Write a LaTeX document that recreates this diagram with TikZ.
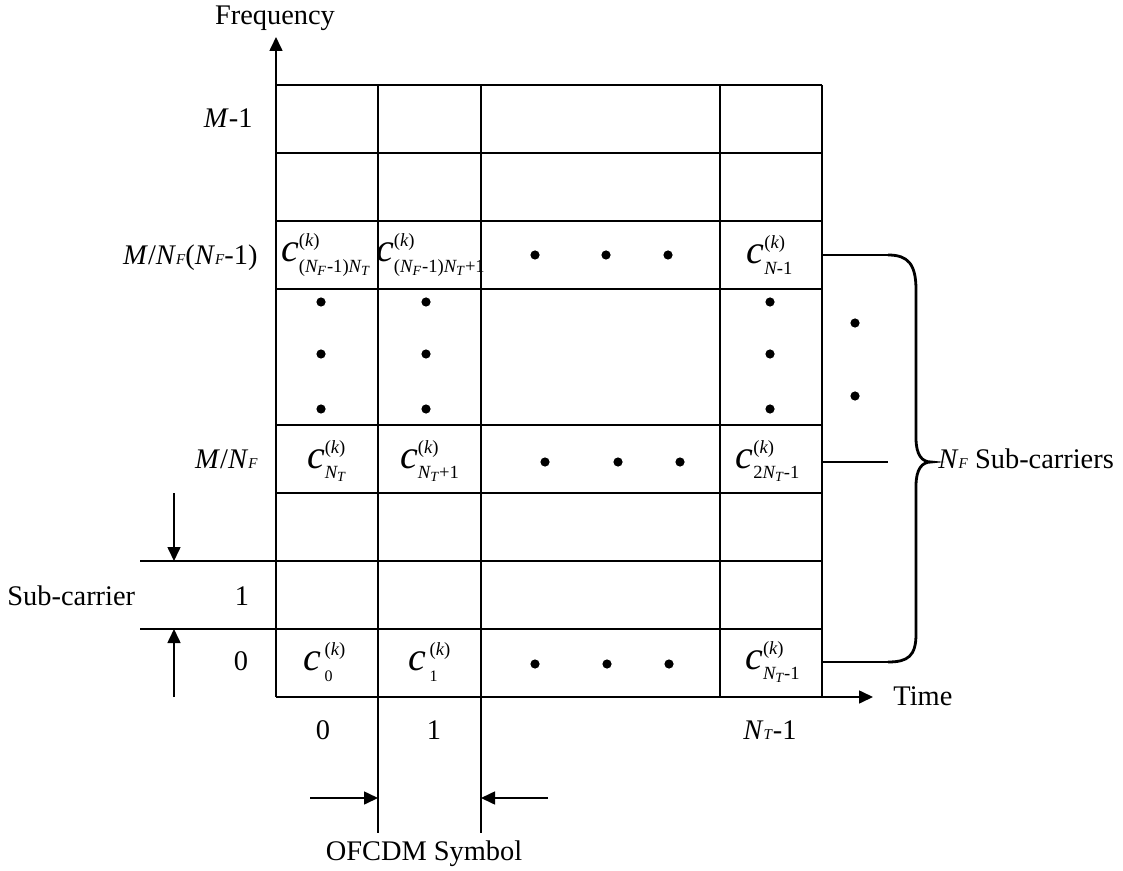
\documentclass[tikz,border=0pt]{standalone}
\usepackage{amsmath}
\usepackage{fontspec}
\setmainfont{Liberation Serif}
\usetikzlibrary{arrows.meta}
\DeclareMathSizes{20}{20}{9.3}{7}
\newcommand{\vi}[1]{\textit{#1}}
\newcommand{\vu}[1]{\textup{#1}}
\newcommand{\cf}[1]{\fontsize{20}{22}\selectfont$#1$}
\newcommand{\smf}[1]{{\fontsize{7.5}{8}\selectfont\textit{#1}}}
\newcommand{\sdig}[1]{\text{\fontsize{8}{8}\selectfont #1}}
\begin{document}
\begin{tikzpicture}[x=0.5pt,y=-0.5pt,
  lbl/.style={font=\fontsize{14.2}{17}\selectfont, inner sep=0pt},
  cellc/.style={inner sep=0pt},
  gridl/.style={line width=0.8pt},
  arr/.style={line width=0.8pt,-{Triangle[length=7pt,width=6.5pt]}},
  bigdot/.style={fill=black}]
\useasboundingbox (0,0) rectangle (1123,871);
% grid
\foreach \yy in {85,153,221,289,425,493,561,629,697}
  \draw[gridl] (276,\yy) -- (822,\yy);
\foreach \xx in {720,822}
  \draw[gridl] (\xx,85) -- (\xx,697);
\foreach \xx in {378,481}
  \draw[gridl] (\xx,85) -- (\xx,833);
% axes
\coordinate (O) at (276,697);
\coordinate (ftop) at (276,37);
\coordinate (tend) at (873,697);
\draw[arr] (O) -- (ftop);
\draw[arr] (O) -- (tend);
\node[lbl,anchor=base] (freq) at (275,25) {Frequency};
\node[lbl,anchor=base west] (time) at (893,705) {Time};
% left labels
\node[lbl,anchor=base east] (lm1) at (253,128) {\textit{M}-1};
\node[lbl,anchor=base east] (lmnf1) at (258,265) {\textit{M}/\textit{N}\smf{F}(\textit{N}\smf{F}-1)};
\node[lbl,anchor=base east] (lmnf) at (258,468) {\textit{M}/\textit{N}\smf{F}};
\node[lbl,anchor=base] (l1) at (242,605) {1};
\node[lbl,anchor=base] (l0) at (241,670) {0};
\node[lbl,anchor=base west] (sub) at (7,605) {Sub-carrier};
\coordinate (s1) at (140,561);
\coordinate (s0) at (140,629);
\draw[gridl] (s1) -- (276,561);
\draw[gridl] (s0) -- (276,629);
\coordinate (a1s) at (174,493);
\coordinate (a1e) at (174,561);
\coordinate (a0s) at (174,697);
\coordinate (a0e) at (174,629);
\draw[arr] (a1s) -- (a1e);
\draw[arr] (a0s) -- (a0e);
% bottom labels
\node[lbl,anchor=base] (b0) at (323,739) {0};
\node[lbl,anchor=base] (b1) at (434,739) {1};
\node[lbl,anchor=base] (bnt) at (770,739) {\textit{N}\smf{T}-1};
\coordinate (ol) at (310,798);
\coordinate (or) at (548,798);
\coordinate (olt) at (378,798);
\coordinate (ort) at (481,798);
\draw[arr] (ol) -- (olt);
\draw[arr] (or) -- (ort);
\node[lbl,anchor=base] (ofcdm) at (424,860) {OFCDM Symbol};
% cells
\node[cellc] (c1) at (326,255) {\cf{\vi{c}^{\vu{(}\vi{k}\vu{)}}_{\vu{(}\vi{N}_{\vi{F}}\vu{-1)}\vi{N}_{\vi{T}}}}};
\node[cellc] (c2) at (431,255) {\cf{\vi{c}^{\vu{(}\vi{k}\vu{)}}_{\vu{(}\vi{N}_{\vi{F}}\vu{-1)}\vi{N}_{\vi{T}}\vu{+1}}}};
\node[cellc] (c3) at (770,255) {\cf{\vi{c}^{\vu{(}\vi{k}\vu{)}}_{\vi{N}\vu{-1}}}};
\node[cellc] (c4) at (327,461) {\cf{\vi{c}^{\vu{(}\vi{k}\vu{)}}_{\vi{N}_{\vi{T}}}}};
\node[cellc] (c5) at (430,461) {\cf{\vi{c}^{\vu{(}\vi{k}\vu{)}}_{\vi{N}_{\vi{T}}\vu{+1}}}};
\node[cellc] (c6) at (768,461) {\cf{\vi{c}^{\vu{(}\vi{k}\vu{)}}_{\vu{2}\vi{N}_{\vi{T}}\vu{-1}}}};
\node[cellc] (c7) at (325,662) {\cf{\vi{c}^{\,\vu{(}\vi{k}\vu{)}}_{\,\sdig{0}}}};
\node[cellc] (c8) at (430,662) {\cf{\vi{c}^{\,\vu{(}\vi{k}\vu{)}}_{\,\sdig{1}}}};
\node[cellc] (c9) at (773,662) {\cf{\vi{c}^{\vu{(}\vi{k}\vu{)}}_{\vi{N}_{\vi{T}}\vu{-1}}}};
% dots
\foreach \xx/\yy in {535/255,606/255,668/255,
                     545/462,618/462,680/462,
                     535/664,607/664,669/664,
                     321/302,321/354,321/409,
                     426/302,426/354,426/409,
                     770/302,770/354,770/409,
                     855/323,855/396}
  \fill[bigdot] (\xx,\yy) circle[radius=2.3pt];
% right leaders and brace
\coordinate (bt) at (888,255);
\coordinate (bm) at (888,462);
\coordinate (bb) at (888,662);
\draw[gridl] (822,255) -- (bt);
\draw[gridl] (822,462) -- (bm);
\draw[gridl] (822,662) -- (bb);
\draw[line width=1.4pt] (bt) .. controls (908,255) and (916,264) .. (916,290)
  -- (916,438) .. controls (916,455) and (922,462) .. (931,462)
  .. controls (922,462) and (916,469) .. (916,486)
  -- (916,634) .. controls (916,656) and (908,662) .. (bb);
\node[lbl,anchor=base west] (nfs) at (938,468) {\textit{N}\smf{F} Sub-carriers};
\end{tikzpicture}
\end{document}
